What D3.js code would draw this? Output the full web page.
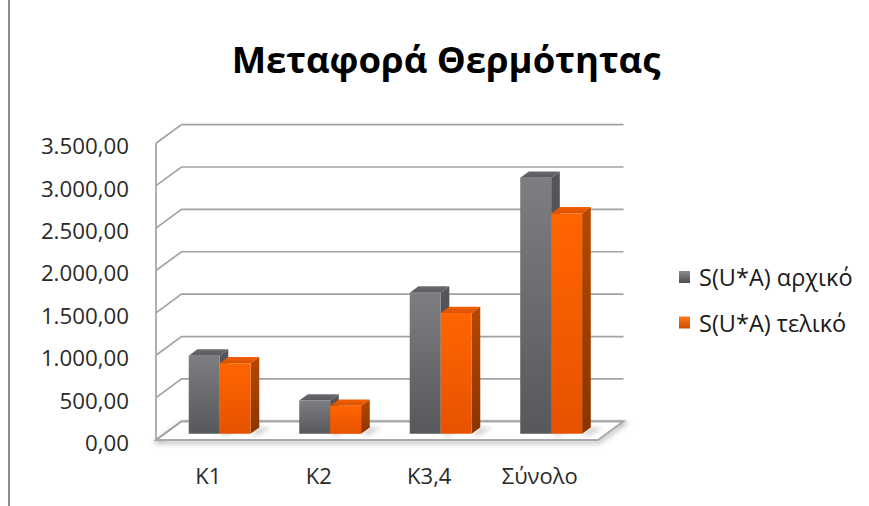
<!doctype html>
<html>
  <head>
    <meta charset="utf-8">
    <script src="https://cdn.jsdelivr.net/npm/d3@7"></script>
    <style>
      body { margin: 0; background: #fff; }
      text { font-family: "Open Sans", "Noto Sans", sans-serif; }
    </style>
  </head>
  <body>
    <svg id="chart" width="869" height="506"></svg>

    <script>
      // values
      var categories = ["K1", "K2", "K3,4", "Σύνολο"];
      var seriesNames = ["S(U*A) αρχικό", "S(U*A) τελικό"];
      var initialValues = [922, 392, 1665, 3020];
      var finalValues = [832, 331, 1425, 2600];
      var tickValues = [0, 500, 1000, 1500, 2000, 2500, 3000, 3500];
      var title = "Μεταφορά Θερμότητας";

      var series = [initialValues, finalValues];

      var svg = d3.select("#chart");

      // oblique 3d: front plane plus a depth offset
      var DX = 25.5, DY = 18.7;
      var x = d3.scaleBand().domain(categories).range([156, 598]).padding(0);
      var y = d3.scaleLinear().domain([0, 3500]).range([440, 143.3]);
      var p = function(px, v, z) { return [px + z * DX, y(v) - z * DY]; };
      var poly = function(pts) { return "M" + pts.map(function(q) { return q.join(","); }).join("L") + "Z"; };

      var defs = svg.append("defs");
      var soft = defs.append("filter").attr("id", "soft").attr("x", "-20%").attr("y", "-20%")
        .attr("width", "140%").attr("height", "160%");
      soft.append("feGaussianBlur").attr("stdDeviation", 2.5);

      var grad = function(id, c1, c2, horiz) {
        var g = defs.append("linearGradient").attr("id", id)
          .attr("x1", 0).attr("y1", 0).attr("x2", horiz ? 1 : 0).attr("y2", horiz ? 0 : 1);
        g.append("stop").attr("offset", "0%").attr("stop-color", c1);
        g.append("stop").attr("offset", "100%").attr("stop-color", c2);
      };
      grad("gFront", "#7c7e82", "#56585b");
      grad("gSide", "#55575a", "#3f4042");
      grad("gTop", "#6a6b6f", "#58595c");
      grad("oFront", "#ff6500", "#e65200");
      grad("oSide", "#b84800", "#8a3400");
      grad("oTop", "#f46000", "#d85000");
      grad("gLeg", "#8a8b8f", "#4d4e51");
      grad("oLeg", "#ff7a20", "#d04800");

      var faces = [
        { front: "url(#gFront)", side: "url(#gSide)", top: "url(#gTop)" },
        { front: "url(#oFront)", side: "url(#oSide)", top: "url(#oTop)" }
      ];

      // chart area border on the left
      svg.append("line").attr("x1", 9).attr("x2", 9).attr("y1", 0).attr("y2", 506)
        .attr("stroke", "#8c8c8c").attr("stroke-width", 2);

      // title
      svg.append("text").attr("x", 446).attr("y", 72.5).attr("text-anchor", "middle")
        .attr("font-size", 36.5).attr("font-weight", 700).attr("fill", "#000").text(title);

      var x0 = x.range()[0], x1 = x.range()[1];

      // floor (with soft shadow)
      var floorPts = [p(x0, 0, 0), p(x1, 0, 0), p(x1, 0, 1), p(x0, 0, 1)];
      svg.append("path").attr("d", poly(floorPts.map(function(q) { return [q[0] + 1, q[1] + 2]; })))
        .attr("fill", "none").attr("stroke", "#9a9a9a").attr("stroke-width", 3)
        .attr("filter", "url(#soft)").attr("opacity", 0.8);
      svg.append("path").attr("d", poly(floorPts)).attr("fill", "#fff")
        .attr("stroke", "#a8a8a8").attr("stroke-width", 1.8);

      // walls: diagonal lines on left wall, horizontal lines on back wall
      var grid = svg.append("g").attr("fill", "none").attr("stroke", "#a3a3a3").attr("stroke-width", 1.7);
      tickValues.forEach(function(t) {
        var a = p(x0, t, 0), b = p(x0, t, 1), c = p(x1, t, 1);
        grid.append("path").attr("d", "M" + a + "L" + b + "L" + c);
      });
      grid.append("line")
        .attr("x1", x0).attr("x2", x0).attr("y1", y(0)).attr("y2", y(3500));

      // y labels
      svg.append("g").selectAll("text").data(tickValues).enter().append("text")
        .attr("x", 129).attr("y", function(d) { return y(d) + 11; })
        .attr("text-anchor", "end").attr("font-size", 22.3).attr("fill", "#2a2a2a")
        .text(function(d) {
          return d3.format(",.2f")(d).replace(/,/g, "#").replace(".", ",").replace(/#/g, ".");
        });

      // x labels
      svg.append("g").selectAll("text").data(categories).enter().append("text")
        .attr("x", function(d) { return x(d) + x.bandwidth() / 2 - 3; })
        .attr("y", 484).attr("text-anchor", "middle").attr("font-size", 22).attr("fill", "#2a2a2a")
        .text(function(d) { return d; });

      // bars
      var bw = x.bandwidth() * 0.28, z0 = 0.33, z1 = 0.67;
      var bars = svg.append("g");
      categories.forEach(function(cat, ci) {
        series.forEach(function(vals, si) {
          var v = vals[ci];
          var bx0 = x(cat) + (x.bandwidth() - 2 * bw) / 2 + si * bw, bx1 = bx0 + bw;
          var f = faces[si];
          // shadow on the floor
          bars.append("path")
            .attr("d", poly([p(bx1, 0, z0), p(bx1 + 10, 0, z0 - 0.1), p(bx1 + 12, 0, z1), p(bx1, 0, z1)]))
            .attr("fill", "#000").attr("opacity", 0.18).attr("filter", "url(#soft)");
          bars.append("path").attr("fill", f.side)
            .attr("d", poly([p(bx1, 0, z0), p(bx1, 0, z1), p(bx1, v, z1), p(bx1, v, z0)]));
          bars.append("path").attr("fill", f.top)
            .attr("d", poly([p(bx0, v, z0), p(bx1, v, z0), p(bx1, v, z1), p(bx0, v, z1)]));
          bars.append("path").attr("fill", f.front)
            .attr("d", poly([p(bx0, 0, z0), p(bx1, 0, z0), p(bx1, v, z0), p(bx0, v, z0)]));
        });
      });

      // legend
      var legend = svg.append("g").selectAll("g").data(seriesNames).enter().append("g")
        .attr("transform", function(d, i) { return "translate(679," + (271 + i * 45.5) + ")"; });
      legend.append("rect").attr("width", 11).attr("height", 12)
        .attr("fill", function(d, i) { return i ? "url(#oLeg)" : "url(#gLeg)"; });
      legend.append("text").attr("x", 20).attr("y", 15).attr("font-size", 23.5).attr("fill", "#1a1a1a")
        .text(function(d) { return d; });
    </script>
  </body>
</html>
